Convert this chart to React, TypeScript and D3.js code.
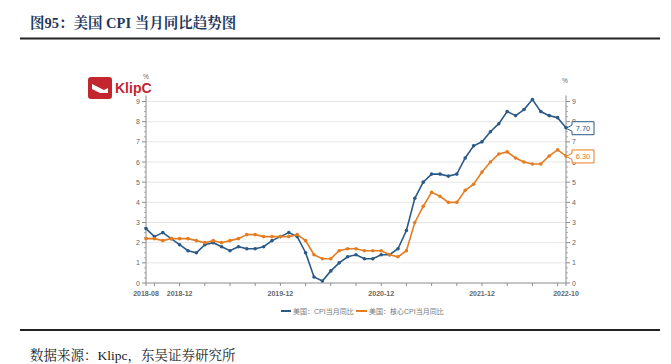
import React from "react";
import * as d3 from "d3";

const months: string[] = [
  "2018-08","2018-09","2018-10","2018-11","2018-12",
  "2019-01","2019-02","2019-03","2019-04","2019-05","2019-06","2019-07","2019-08","2019-09","2019-10","2019-11","2019-12",
  "2020-01","2020-02","2020-03","2020-04","2020-05","2020-06","2020-07","2020-08","2020-09","2020-10","2020-11","2020-12",
  "2021-01","2021-02","2021-03","2021-04","2021-05","2021-06","2021-07","2021-08","2021-09","2021-10","2021-11","2021-12",
  "2022-01","2022-02","2022-03","2022-04","2022-05","2022-06","2022-07","2022-08","2022-09","2022-10",
];
const cpi: number[] = [
  2.7,2.3,2.5,2.2,1.9,
  1.6,1.5,1.9,2.0,1.8,1.6,1.8,1.7,1.7,1.8,2.1,2.3,
  2.5,2.3,1.5,0.3,0.1,0.6,1.0,1.3,1.4,1.2,1.2,1.4,
  1.4,1.7,2.6,4.2,5.0,5.4,5.4,5.3,5.4,6.2,6.8,7.0,
  7.5,7.9,8.5,8.3,8.6,9.1,8.5,8.3,8.2,7.7,
];
const coreCpi: number[] = [
  2.2,2.2,2.1,2.2,2.2,
  2.2,2.1,2.0,2.1,2.0,2.1,2.2,2.4,2.4,2.3,2.3,2.3,
  2.3,2.4,2.1,1.4,1.2,1.2,1.6,1.7,1.7,1.6,1.6,1.6,
  1.4,1.3,1.6,3.0,3.8,4.5,4.3,4.0,4.0,4.6,4.9,5.5,
  6.0,6.4,6.5,6.2,6.0,5.9,5.9,6.3,6.6,6.3,
];
const xTickLabels: string[] = ["2018-08","2018-12","2019-12","2020-12","2021-12","2022-10"];
const yTicks: number[] = [0,1,2,3,4,5,6,7,8,9];
const seriesNames: string[] = ["美国：CPI当月同比","美国：核心CPI当月同比"];
const lastLabels: string[] = ["7.70","6.30"];

const BLUE = "#2b5a87";
const ORANGE = "#e47d22";
const AXIS = "#8c8c8c";
const TXT = "#666";

export default function App() {
  const W = 671, H = 364;
  const x = d3.scaleLinear().domain([0, months.length - 1]).range([146, 566]);
  const y = d3.scaleLinear().domain([0, 9]).range([283, 101.5]);
  const line = d3.line<number>().x((_, i) => x(i)).y((d) => y(d));
  const minorY = d3.range(0, 9.001, 0.25).filter((v) => Math.abs(v - Math.round(v)) > 1e-6);
  const quarterTicks = months
    .map((m, i) => ({ m, i }))
    .filter(({ m, i }) => ["03","06","09","12"].includes(m.slice(5)) || i === 0 || i === months.length - 1);
  const font = "'Liberation Sans', 'Noto Sans CJK SC', sans-serif";
  const serif = "'Liberation Serif', 'Noto Serif CJK SC', 'Noto Sans CJK SC', serif";

  const series = [
    { data: cpi, color: BLUE, label: lastLabels[0] },
    { data: coreCpi, color: ORANGE, label: lastLabels[1] },
  ];

  return (
    <div style={{ position: "absolute", left: 0, top: 0 }}>
      <svg width={W} height={H} style={{ display: "block", background: "#fff" }}>
        {/* title */}
        <text x={30} y={28} fontFamily={serif} fontWeight="bold" fontSize={14.5} fill="#1f3a60">
          图95：美国 CPI 当月同比趋势图
        </text>
        <line x1={20} x2={660} y1={38.5} y2={38.5} stroke="#222" strokeWidth={2} />
        <line x1={20} x2={660} y1={330} y2={330} stroke="#222" strokeWidth={2} />
        <text x={30} y={360} fontFamily={serif} fontSize={13.5} fill="#222">
          数据来源：Klipc，东吴证券研究所
        </text>

        {/* logo */}
        <rect x={88} y={77} width={24} height={22} rx={3} fill="#c4262e" />
        <path d="M92 84 L104 90 L108 88 L108 93 L100 93 L92 89 Z" fill="#fff" />
        <text x={115} y={93} fontFamily={font} fontWeight="bold" fontSize={14} fill="#c4262e">KlipC</text>

        {/* grid */}
        {yTicks.slice(1).map((t) => (
          <line key={"g" + t} x1={146} x2={566} y1={y(t)} y2={y(t)} stroke="#e1e1e1" strokeWidth={0.8} />
        ))}

        {/* axes */}
        <line x1={146} x2={146} y1={y(9.3)} y2={y(0)} stroke={AXIS} strokeWidth={1} />
        <line x1={566} x2={566} y1={y(9.3)} y2={y(0)} stroke={AXIS} strokeWidth={1} />
        <line x1={146} x2={566} y1={y(0)} y2={y(0)} stroke={AXIS} strokeWidth={1} />
        {yTicks.map((t) => (
          <g key={"yt" + t}>
            <line x1={142} x2={146} y1={y(t)} y2={y(t)} stroke={AXIS} />
            <line x1={566} x2={570} y1={y(t)} y2={y(t)} stroke={AXIS} />
            <text x={140} y={y(t) + 2.5} textAnchor="end" fontFamily={font} fontSize={7} fill={TXT}>{t}</text>
            <text x={572} y={y(t) + 2.5} textAnchor="start" fontFamily={font} fontSize={7} fill={TXT}>{t}</text>
          </g>
        ))}
        {minorY.map((t) => (
          <g key={"ym" + t}>
            <line x1={144} x2={146} y1={y(t)} y2={y(t)} stroke={AXIS} strokeWidth={0.7} />
            <line x1={566} x2={568} y1={y(t)} y2={y(t)} stroke={AXIS} strokeWidth={0.7} />
          </g>
        ))}
        <text x={146} y={79} textAnchor="middle" fontFamily={font} fontSize={6.5} fill={TXT}>%</text>
        <text x={565} y={83} textAnchor="middle" fontFamily={font} fontSize={6.5} fill={TXT}>%</text>

        {quarterTicks.map(({ m, i }) => (
          <line key={"xt" + m} x1={x(i)} x2={x(i)} y1={y(0)} y2={y(0) + 3} stroke={AXIS} />
        ))}
        {xTickLabels.map((lab) => {
          const i = months.indexOf(lab);
          return (
            <text key={"xl" + lab} x={x(i)} y={296} textAnchor="middle" fontFamily={font} fontWeight="bold" fontSize={7} fill={TXT}>
              {lab}
            </text>
          );
        })}

        {/* series */}
        {series.map((s, k) => (
          <g key={"s" + k}>
            <path d={line(s.data) || ""} fill="none" stroke={s.color} strokeWidth={1.6} />
            {s.data.map((v, i) => (
              <circle key={i} cx={x(i)} cy={y(v)} r={1.8} fill={s.color} />
            ))}
          </g>
        ))}

        {/* end labels */}
        {series.map((s, k) => {
          const v = s.data[s.data.length - 1];
          const cy = y(v) + 0.5;
          const x0 = 566, bx = 572, bw = 22, bh = 13;
          const d = `M${x0} ${cy} L${bx} ${cy - 3} L${bx} ${cy - bh / 2} L${bx + bw} ${cy - bh / 2} L${bx + bw} ${cy + bh / 2} L${bx} ${cy + bh / 2} L${bx} ${cy + 3} Z`;
          return (
            <g key={"lab" + k}>
              <path d={d} fill="#fff" stroke={s.color} strokeWidth={1} />
              <text x={bx + bw / 2} y={cy + 2.8} textAnchor="middle" fontFamily={font} fontSize={7.5} fill={s.color}>{s.label}</text>
            </g>
          );
        })}

        {/* legend */}
        <line x1={281} x2={291} y1={311} y2={311} stroke={BLUE} strokeWidth={2} />
        <text x={293} y={313.5} fontFamily={font} fontSize={7} fill="#777">{seriesNames[0]}</text>
        <line x1={356} x2={367} y1={311} y2={311} stroke={ORANGE} strokeWidth={2} />
        <text x={369} y={313.5} fontFamily={font} fontSize={7} fill="#777">{seriesNames[1]}</text>
      </svg>
    </div>
  );
}
